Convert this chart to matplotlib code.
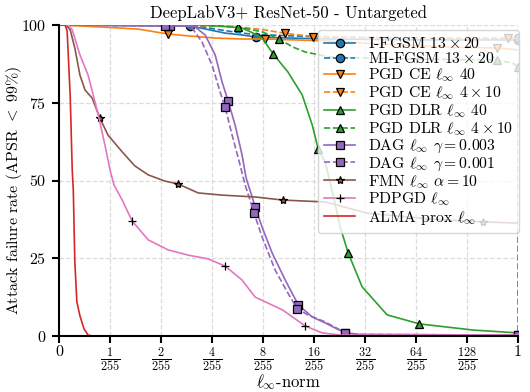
import numpy as np
import matplotlib
matplotlib.use("Agg")
import matplotlib.pyplot as plt
from matplotlib.ticker import NullLocator

plt.rcParams['font.family'] = 'serif'
plt.rcParams['font.serif'] = ['cmr10']
plt.rcParams['mathtext.fontset'] = 'cm'
plt.rcParams['axes.formatter.use_mathtext'] = True
plt.rcParams['font.size'] = 11.5

# perturbation size in units of 1/255, attack failure rate in %
ifgsm_eps = [0, 2.97, 3.89, 4.77, 6.01, 7.28, 11.5, 19.9, 67.6, 255]
ifgsm_y = [100, 99.7, 98.4, 97.4, 96.8, 96.1, 95.8, 95.5, 95.2, 95.2]
mifgsm_eps = [0, 2.85, 3.17, 4.17, 5.47, 6.70, 11.5, 26.1, 101.6, 255]
mifgsm_y = [100, 99.8, 99.8, 98.7, 97.7, 97.1, 96.5, 96.0, 95.8, 95.7]

pgdce_eps = [0, 0.77, 1.46, 2.20, 2.89, 4.17, 6.01, 8.22, 18.6, 39.2, 101.6, 192, 255]
pgdce_y = [100, 99.4, 98.7, 97.1, 96.5, 95.8, 95.5, 95.5, 94.9, 93.9, 92.9, 92.6, 92.0]
pgdce4_eps = [0, 3.40, 5.70, 8.22, 10.8, 15.8, 29.9, 101.6, 223, 255]
pgdce4_y = [100, 99.8, 99.4, 98.4, 97.3, 96.3, 96.0, 95.8, 95.8, 95.7]

pgddlr_eps = [0, 3.40, 5.11, 6.01, 6.98, 7.89, 9.17, 11.2, 13.6, 15.6, 16.9, 18.6,
              20.7, 22.8, 25.4, 30.7, 43.1, 66.7, 139, 255]
pgddlr_y = [100, 100, 99.4, 99.0, 97.4, 95.8, 90.7, 84.9, 77.5, 67.8, 60.1, 55.9,
            45.3, 35.0, 26.7, 15.8, 6.8, 3.9, 1.9, 1.0]
pgddlr4_eps = [0, 3.40, 5.70, 8.0, 9.94, 12.0, 14.2, 19.9, 51.5, 192, 236, 255, 255]
pgddlr4_y = [100, 100, 99.4, 97.7, 95.5, 92.9, 91.3, 89.7, 89.1, 88.7, 87.8, 86.5, 0]

dag3_eps = [0, 2.26, 2.97, 3.17, 3.64, 4.17, 4.58, 4.97, 5.47, 6.01, 6.35, 6.89, 7.18,
            7.89, 9.04, 10.8, 12.9, 15.6, 18.6, 20.7, 24.4, 29.9, 255]
dag3_y = [100, 99.7, 99.7, 99.4, 96.8, 90.4, 81.7, 75.6, 67.8, 58.2, 50.8, 44.7, 41.5,
          35.0, 26.7, 18.0, 10.0, 6.1, 4.2, 2.9, 1.0, 0.5, 0.3]
dag1_eps = [0, 2.11, 2.77, 3.05, 3.49, 4.0, 4.46, 4.77, 5.25, 5.85, 6.26, 6.70, 7.08,
            7.89, 9.42, 11.2, 12.7, 14.7, 18.6, 22.8, 24.4, 29.9, 255]
dag1_y = [100, 99.7, 99.7, 99.0, 94.5, 87.1, 78.5, 73.6, 64.6, 55.0, 48.6, 43.7, 39.5,
          31.8, 21.2, 13.8, 8.7, 6.8, 4.5, 1.9, 1.0, 0.5, 0.3]

fmn_eps = [0, 0.14, 0.22, 0.31, 0.41, 0.51, 0.65, 0.80, 0.96, 1.18, 1.40, 1.68, 2.11,
           2.52, 3.31, 4.58, 7.18, 10.5, 18.6, 32.9, 77.4, 159, 255]
fmn_y = [100, 100, 98.4, 92.6, 83.9, 79.1, 76.5, 70.1, 64.6, 59.2, 54.7, 51.8, 49.8,
         48.9, 46.0, 45.3, 44.7, 43.7, 43.1, 39.5, 37.6, 36.7, 36.3]

pdpgd_eps = [0, 0.18, 0.26, 0.41, 0.57, 0.77, 0.90, 1.0, 1.055, 1.18, 1.35, 1.68, 2.20,
             2.89, 3.79, 4.77, 6.01, 7.18, 10.4, 14.2, 17.8, 22.8, 255]
pdpgd_y = [100, 100, 98.4, 90.4, 83.9, 71.1, 61.4, 53.4, 48.6, 43.7, 37.0, 30.9, 27.7,
           26.0, 24.8, 22.5, 18.0, 12.5, 8.4, 3.2, 1.0, 0.3, 0.3]

alma_eps = [0, 0.12, 0.16, 0.22, 0.26, 0.28, 0.31, 0.35, 0.41, 0.49, 0.57, 0.65, 255]
alma_y = [100, 100, 98, 77, 53, 47, 24, 11, 6.5, 2.3, 0.3, 0, 0]

xtick_num = [1, 2, 4, 8, 16, 32, 64, 128]

fig = plt.figure(figsize=(5.3, 3.92), dpi=100)
ax = fig.add_axes([59 / 530, 1 - 336 / 392, 459 / 530, 311 / 392])

def curve(eps, y, color, ls, marker, label, every, **kw):
    ax.plot(np.asarray(eps) / 255, y, color=color, ls=ls, lw=1.2, marker=marker,
            markevery=every, ms=6, mec='k', mew=0.9, label=label, **kw)

curve(ifgsm_eps, ifgsm_y, 'C0', '-', 'o', r'I-FGSM $13\times20$', [1, 5, 9])
curve(mifgsm_eps, mifgsm_y, 'C0', '--', 'o', r'MI-FGSM $13\times20$', [9])
curve(pgdce_eps, pgdce_y, 'C1', '-', 'v', r'PGD CE $\ell_\infty$ 40', [3, 7, 11])
curve(pgdce4_eps, pgdce4_y, 'C1', '--', 'v', r'PGD CE $\ell_\infty$ $4\times10$', [4, 5, 8])
curve(pgddlr_eps, pgddlr_y, 'C2', '-', '^', r'PGD DLR $\ell_\infty$ 40', [6, 10, 14, 17])
curve(pgddlr4_eps, pgddlr4_y, 'C2', '--', '^', r'PGD DLR $\ell_\infty$ $4\times10$', [2, 4, 9, 11])
curve(dag3_eps, dag3_y, 'C4', '-', 's', r'DAG $\ell_\infty$ $\gamma=0.003$', [1, 7, 12, 16, 20, 22])
curve(dag1_eps, dag1_y, 'C4', '--', 's', r'DAG $\ell_\infty$ $\gamma=0.001$', [1, 7, 12, 16, 20, 22])
curve(fmn_eps, fmn_y, 'C5', '-', '*', r'FMN $\ell_\infty$ $\alpha=10$', [7, 13, 17, 21])
curve(pdpgd_eps, pdpgd_y, 'C6', '-', '+', r'PDPGD $\ell_\infty$', [10, 15, 19])
curve(alma_eps, alma_y, 'C3', '-', None, r'ALMA prox $\ell_\infty$', None)

ax.set_xscale('symlog', base=2, linthresh=1 / 255, linscale=0.5)
ax.set_xlim(0, 1)
ax.set_ylim(0, 100)
ax.set_xticks([0] + [n / 255 for n in xtick_num] + [1])
ax.set_xticklabels(['0'] + [r'$\frac{%d}{255}$' % n for n in xtick_num] + ['1'],
                   fontsize=12.5)
xl = ax.get_xticklabels()
for t in (xl[0], xl[-1]):
    t.set_fontsize(11.5)
ax.xaxis.set_minor_locator(NullLocator())
ax.set_yticks([0, 25, 50, 75, 100])

ax.grid(True, ls='--', color='#dcdcdc', lw=0.9)
ax.set_axisbelow(True)
for s in ['top', 'right']:
    ax.spines[s].set_visible(False)
for s in ['left', 'bottom']:
    ax.spines[s].set_linewidth(1.5)
ax.tick_params(direction='out', length=5, width=1.5)
ax.tick_params(axis='y', labelsize=11.5, pad=4)
ax.tick_params(axis='x', pad=2)

ax.set_title('DeepLabV3+ ResNet-50 - Untargeted', fontsize=12, pad=5)
ax.set_xlabel(r'$\ell_\infty$-norm', fontsize=12)
ax.xaxis.set_label_coords(0.5, -0.117)
ax.set_ylabel(r'Attack failure rate (APSR $<$ 99%)', fontsize=11.5)
ax.yaxis.set_label_coords(-0.077, 0.47)

ax.legend(loc='upper right', bbox_to_anchor=(1.003, 0.984), borderaxespad=0,
          fontsize=11.3, labelspacing=0.01, numpoints=1, handlelength=2,
          borderpad=0.4, handletextpad=0.8, framealpha=0.8)

fig.savefig('out.png', dpi=100)
